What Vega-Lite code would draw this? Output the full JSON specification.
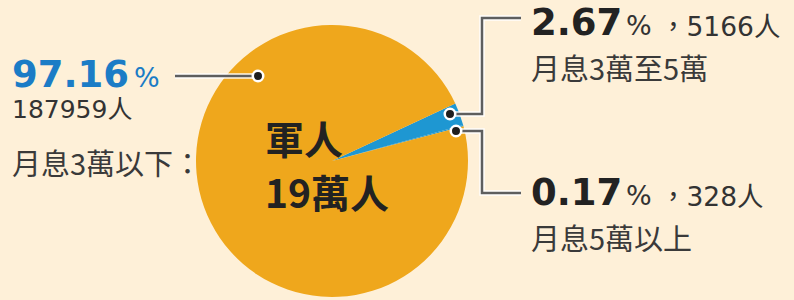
{
  "$schema": "https://vega.github.io/schema/vega-lite/v6.json",
  "width": 794,
  "height": 300,
  "padding": 0,
  "autosize": {"type": "none"},
  "background": "#FEF0D8",
  "config": {"view": {"stroke": null}},
  "datasets": {
    "slices": [
      {"group": "月息3萬至5萬", "pct": 2.67, "people": 5166, "idx": 1},
      {"group": "月息5萬以上", "pct": 0.17, "people": 328, "idx": 2},
      {"group": "月息3萬以下", "pct": 97.16, "people": 187959, "idx": 3}
    ],
    "leaders": [
      {"id": "月息3萬以下", "k": 0, "x": 175, "y": 76},
      {"id": "月息3萬以下", "k": 1, "x": 258, "y": 76},
      {"id": "月息3萬至5萬", "k": 0, "x": 450, "y": 114},
      {"id": "月息3萬至5萬", "k": 1, "x": 482, "y": 114},
      {"id": "月息3萬至5萬", "k": 2, "x": 482, "y": 18},
      {"id": "月息3萬至5萬", "k": 3, "x": 521, "y": 18},
      {"id": "月息5萬以上", "k": 0, "x": 456, "y": 131},
      {"id": "月息5萬以上", "k": 1, "x": 482, "y": 131},
      {"id": "月息5萬以上", "k": 2, "x": 482, "y": 193},
      {"id": "月息5萬以上", "k": 3, "x": 521, "y": 193}
    ],
    "dots": [
      {"id": "月息3萬以下", "x": 258, "y": 76},
      {"id": "月息3萬至5萬", "x": 450, "y": 114},
      {"id": "月息5萬以上", "x": 456, "y": 131}
    ],
    "labels": [
      {"group": "月息3萬以下", "role": "pct", "text": "97.16", "x": 12, "y": 87},
      {"group": "月息3萬以下", "role": "unit", "text": "%", "x": 134, "y": 87},
      {"group": "月息3萬以下", "role": "count", "text": "187959人", "x": 12, "y": 118},
      {"group": "月息3萬以下", "role": "desc", "text": "月息3萬以下：", "x": 12, "y": 175},
      {"group": "月息3萬至5萬", "role": "pct", "text": "2.67", "x": 531, "y": 35},
      {"group": "月息3萬至5萬", "role": "unit", "text": "%", "x": 626, "y": 35},
      {"group": "月息3萬至5萬", "role": "count", "text": "，5166人", "x": 660, "y": 36},
      {"group": "月息3萬至5萬", "role": "desc", "text": "月息3萬至5萬", "x": 531, "y": 80},
      {"group": "月息5萬以上", "role": "pct", "text": "0.17", "x": 531, "y": 205},
      {"group": "月息5萬以上", "role": "unit", "text": "%", "x": 626, "y": 205},
      {"group": "月息5萬以上", "role": "count", "text": "，328人", "x": 660, "y": 206},
      {"group": "月息5萬以上", "role": "desc", "text": "月息5萬以上", "x": 531, "y": 250},
      {"group": "total", "role": "center", "text": "軍人", "x": 265, "y": 154},
      {"group": "total", "role": "center", "text": "19萬人", "x": 265, "y": 208}
    ]
  },
  "layer": [
    {
      "data": {"name": "slices"},
      "transform": [
        {"stack": "pct", "groupby": [], "sort": [{"field": "idx", "order": "ascending"}], "as": ["t0", "t1"]}
      ],
      "mark": {"type": "arc", "radius": 136},
      "encoding": {
        "x": {"datum": 332, "type": "quantitative", "scale": {"domain": [0, 794], "nice": false, "zero": false}, "axis": null},
        "y": {"datum": 161, "type": "quantitative", "scale": {"domain": [0, 300], "nice": false, "zero": false, "reverse": true}, "axis": null},
        "theta": {"field": "t0", "type": "quantitative", "scale": {"domain": [0, 100], "range": [1.1345, 7.4177]}},
        "theta2": {"field": "t1"},
        "color": {"field": "group", "type": "nominal", "legend": null,
          "scale": {"domain": ["月息3萬以下", "月息3萬至5萬", "月息5萬以上"], "range": ["#EFA71C", "#1E97D2", "#1E97D2"]}}
      }
    },
    {
      "data": {"name": "leaders"},
      "mark": {"type": "line", "stroke": "#FFFFFF", "strokeWidth": 5.5, "strokeCap": "butt", "strokeJoin": "miter", "opacity": 0.9},
      "encoding": {
        "x": {"field": "x", "type": "quantitative"},
        "y": {"field": "y", "type": "quantitative"},
        "detail": {"field": "id"}, "order": {"field": "k", "type": "quantitative"}}
    },
    {
      "data": {"name": "leaders"},
      "mark": {"type": "line", "stroke": "#5E5E5E", "strokeWidth": 2.5, "strokeCap": "butt", "strokeJoin": "miter"},
      "encoding": {
        "x": {"field": "x", "type": "quantitative"},
        "y": {"field": "y", "type": "quantitative"},
        "detail": {"field": "id"}, "order": {"field": "k", "type": "quantitative"}}
    },
    {
      "data": {"name": "dots"},
      "mark": {"type": "point", "shape": "circle", "filled": true, "fill": "#1E1E1E", "stroke": "#FFFFFF", "strokeWidth": 2.5, "size": 110, "opacity": 1},
      "encoding": {
        "x": {"field": "x", "type": "quantitative"},
        "y": {"field": "y", "type": "quantitative"}
      }
    },
    {
      "data": {"name": "labels"},
      "transform": [{"filter": "datum.role === 'pct'"}],
      "mark": {"type": "text", "align": "left", "baseline": "alphabetic", "font": "DejaVu Sans", "fontWeight": "bold", "fontSize": 37},
      "encoding": {
        "x": {"field": "x", "type": "quantitative"},
        "y": {"field": "y", "type": "quantitative"},
        "text": {"field": "text"},
        "color": {"condition": {"test": "datum.group === '月息3萬以下'", "value": "#1B7CC6"}, "value": "#222222"}
      }
    },
    {
      "data": {"name": "labels"},
      "transform": [{"filter": "datum.role === 'unit'"}],
      "mark": {"type": "text", "align": "left", "baseline": "alphabetic", "font": "DejaVu Sans", "fontSize": 27},
      "encoding": {
        "x": {"field": "x", "type": "quantitative"},
        "y": {"field": "y", "type": "quantitative"},
        "text": {"field": "text"},
        "color": {"condition": {"test": "datum.group === '月息3萬以下'", "value": "#1B7CC6"}, "value": "#333333"}
      }
    },
    {
      "data": {"name": "labels"},
      "transform": [{"filter": "datum.role === 'count'"}],
      "mark": {"type": "text", "align": "left", "baseline": "alphabetic", "font": "DejaVu Sans, Noto Sans CJK TC", "color": "#333333"},
      "encoding": {
        "x": {"field": "x", "type": "quantitative"},
        "y": {"field": "y", "type": "quantitative"},
        "size": {"condition": {"test": "datum.group === '月息3萬以下'", "value": 25}, "value": 26.5},
        "text": {"field": "text"}}
    },
    {
      "data": {"name": "labels"},
      "transform": [{"filter": "datum.role === 'desc'"}],
      "mark": {"type": "text", "align": "left", "baseline": "alphabetic", "font": "Noto Sans CJK TC", "fontSize": 29, "color": "#3A3A3A"},
      "encoding": {
        "x": {"field": "x", "type": "quantitative"},
        "y": {"field": "y", "type": "quantitative"},
        "text": {"field": "text"}}
    },
    {
      "data": {"name": "labels"},
      "transform": [{"filter": "datum.role === 'center'"}],
      "mark": {"type": "text", "align": "left", "baseline": "alphabetic", "font": "Noto Sans CJK TC", "fontWeight": "bold", "fontSize": 39, "color": "#222222"},
      "encoding": {
        "x": {"field": "x", "type": "quantitative"},
        "y": {"field": "y", "type": "quantitative"},
        "text": {"field": "text"}}
    }
  ]
}
